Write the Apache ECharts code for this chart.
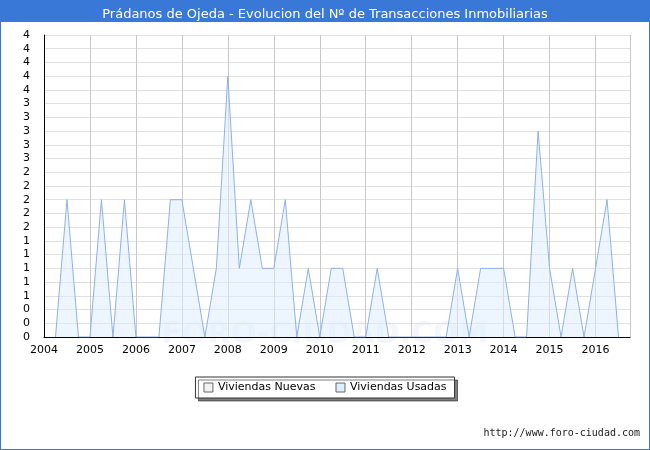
<!DOCTYPE html>
<html>
<head>
<meta charset="utf-8">
<script src="https://cdn.jsdelivr.net/npm/echarts@6/dist/echarts.min.js"></script>
<style>html,body{margin:0;padding:0;background:#fff}#c{width:650px;height:450px}</style>
</head>
<body>
<div id="c"></div>
<script>
// quarter positions (year + fraction) and counts of used dwellings
var quarters = [2004.25, 2004.5, 2004.75, 2005, 2005.25, 2005.5, 2005.75, 2006, 2006.25, 2006.5, 2006.75,
  2007, 2007.25, 2007.5, 2007.75, 2008, 2008.25, 2008.5, 2008.75, 2009, 2009.25, 2009.5, 2009.75,
  2010, 2010.25, 2010.5, 2010.75, 2011, 2011.25, 2011.5, 2011.75, 2012, 2012.25, 2012.5, 2012.75,
  2013, 2013.25, 2013.5, 2013.75, 2014, 2014.25, 2014.5, 2014.75, 2015, 2015.25, 2015.5, 2015.75,
  2016, 2016.25, 2016.5];
var usadas = [0, 2, 0, 0, 2, 0, 2, 0, 0, 0, 2,
  2, 1, 0, 1, 3.8, 1, 2, 1, 1, 2, 0, 1,
  0, 1, 1, 0, 0, 1, 0, 0, 0, 0, 0, 0,
  1, 0, 1, 1, 1, 0, 0, 3, 1, 0, 1, 0,
  1, 2, 0];
var nuevas = [];

var chart = echarts.init(document.getElementById('c'));
chart.setOption({
  animation: false,
  backgroundColor: '#fff',
  title: {
    text: 'Prádanos de Ojeda - Evolucion del Nº de Transacciones Inmobiliarias',
    left: 'center', top: 3,
    textStyle: { color: '#fff', fontSize: 13, fontWeight: 'normal', fontFamily: 'DejaVu Sans' }
  },
  graphic: [
    { type: 'rect', z: -1, shape: { x: 0, y: 0, width: 650, height: 22 }, style: { fill: '#3a78d8' } },
    { type: 'rect', z: -1, shape: { x: 0, y: 0, width: 650, height: 450 }, style: { fill: 'none', stroke: '#3a78d8', lineWidth: 2 } },
    { type: 'text', left: 'center', top: 320, z: 0,
      style: { text: 'FORO-CIUDAD.COM', fill: 'rgba(215,220,240,0.25)', font: 'bold 30px DejaVu Sans' } },
    { type: 'text', right: 10, top: 428,
      style: { text: 'http://www.foro-ciudad.com', fill: '#222', font: '10px DejaVu Sans Mono' } }
  ],
  legend: {
    top: 377, left: 'center',
    itemWidth: 9, itemHeight: 9, itemGap: 20,
    padding: [5, 8], borderColor: '#333', borderWidth: 1,
    shadowColor: 'rgba(0,0,0,0.5)', shadowOffsetX: 3, shadowOffsetY: 3, shadowBlur: 0,
    backgroundColor: '#fff',
    textStyle: { fontSize: 11, fontFamily: 'DejaVu Sans', color: '#000' },
    data: [
      { name: 'Viviendas Nuevas', icon: 'rect', itemStyle: { color: '#f2f2f2', borderColor: '#666', borderWidth: 1 } },
      { name: 'Viviendas Usadas', icon: 'rect', itemStyle: { color: '#ddeeff', borderColor: '#666', borderWidth: 1 } }
    ]
  },
  grid: { left: 44, right: 20, top: 35, bottom: 113 },
  xAxis: {
    type: 'value', min: 2004, max: 2016.75, interval: 1,
    axisLine: { lineStyle: { color: '#000' } },
    axisTick: { show: false },
    axisLabel: { color: '#000', fontSize: 11, fontFamily: 'DejaVu Sans', showMaxLabel: false,
      formatter: function (v) { return String(v); } },
    splitLine: { show: true, lineStyle: { color: '#c8c8c8' } }
  },
  yAxis: {
    type: 'value', min: 0, max: 4.4, interval: 0.2,
    axisLine: { show: true, lineStyle: { color: '#000' } },
    axisTick: { show: false },
    axisLabel: { color: '#000', fontSize: 11, fontFamily: 'DejaVu Sans', margin: 14,
      formatter: function (v) { return Math.round(v); } },
    splitLine: { show: true, lineStyle: { color: '#e0e0e0' } }
  },
  series: [
    { name: 'Viviendas Nuevas', type: 'line', data: nuevas, showSymbol: false },
    {
      name: 'Viviendas Usadas', type: 'line', showSymbol: false,
      data: quarters.map(function (q, i) { return [q, usadas[i]]; }),
      lineStyle: { color: '#8eb0ec', width: 1 },
      itemStyle: { color: '#8eb0ec' },
      areaStyle: { color: 'rgba(221,238,255,0.75)' }
    }
  ]
});
</script>
</body>
</html>
